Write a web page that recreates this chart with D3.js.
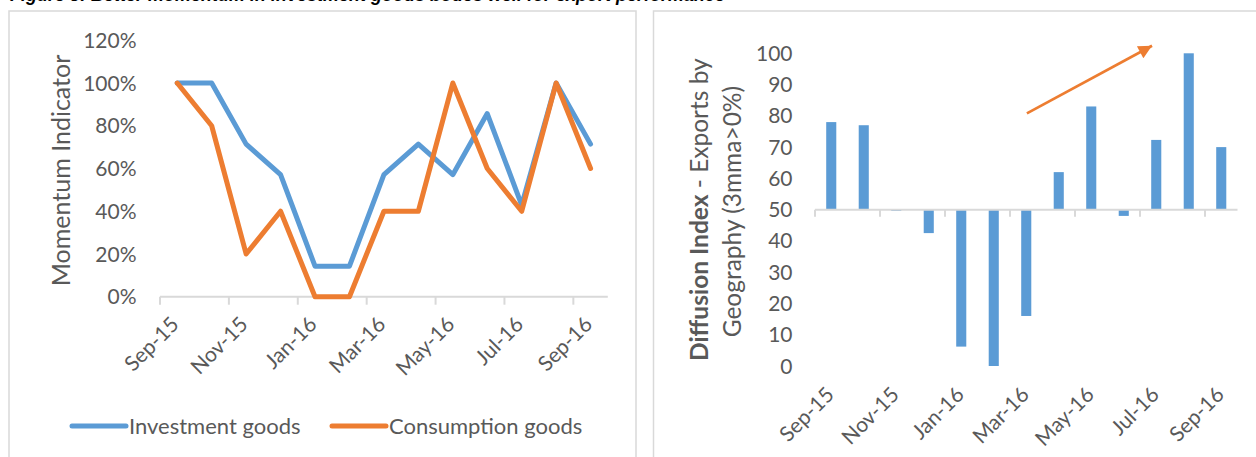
<!DOCTYPE html>
<html>
<head>
<meta charset="utf-8">
<script src="https://cdn.jsdelivr.net/npm/d3@7"></script>
<style>
  html, body { margin: 0; padding: 0; background: #fff; }
  svg { display: block; }
  text { font-family: Lato, "Open Sans", sans-serif; fill: #595959; }
</style>
</head>
<body>
<svg id="chart" width="1256" height="457"></svg>
<script>
// Months shared by both panels
const months = ["Sep-15","Oct-15","Nov-15","Dec-15","Jan-16","Feb-16","Mar-16",
                "Apr-16","May-16","Jun-16","Jul-16","Aug-16","Sep-16"];

// Left panel: momentum indicators (share)
const investmentGoods  = [1.00, 1.00, 0.714, 0.571, 0.143, 0.143, 0.571, 0.714, 0.571, 0.857, 0.429, 1.00, 0.714];
const consumptionGoods = [1.00, 0.80, 0.20, 0.40, 0.00, 0.00, 0.40, 0.40, 1.00, 0.60, 0.40, 1.00, 0.60];
const momentumTicks = [0, 0.2, 0.4, 0.6, 0.8, 1.0, 1.2];

// Right panel: diffusion index of exports by geography
const diffusionIndex = [78, 77, 49.6, 42.5, 6.2, 0, 16, 62, 83, 48, 72.3, 100, 70];
const diffusionTicks = [0, 10, 20, 30, 40, 50, 60, 70, 80, 90, 100];
const diffusionBase = 50;

// Trend arrow, in (month index, index value) units
const trendFrom = [6.52, 80.8];
const trendTo   = [10.37, 102.4];

// Labels shown on the category axes
const tickMonths = ["Sep-15","Nov-15","Jan-16","Mar-16","May-16","Jul-16","Sep-16"];

const BLUE = "#5B9BD5", ORANGE = "#ED7D31", AXIS = "#d9d9d9";
const svg = d3.select("#chart");

// Figure title (runs off the top edge)
svg.append("text")
  .attr("x", 10).attr("y", 1)
  .style("font-family", "'Liberation Sans', Arial, sans-serif")
  .style("font-weight", "bold").style("font-style", "italic")
  .style("font-size", "18px").style("fill", "#000")
  .text("Figure 3: Better momentum in investment goods bodes well for export performance");

// Panel frames
svg.append("rect").attr("x", 9).attr("y", 11).attr("width", 627).attr("height", 470)
  .attr("fill", "none").attr("stroke", AXIS).attr("stroke-width", 1.5);
svg.append("rect").attr("x", 653.5).attr("y", 11).attr("width", 620).attr("height", 470)
  .attr("fill", "none").attr("stroke", AXIS).attr("stroke-width", 1.5);

// ---------- Left panel: momentum lines ----------
const xL = d3.scaleBand().domain(months).range([160, 607.8]).padding(0);
const yL = d3.scaleLinear().domain([0, 1.2]).range([296.7, 40.3]);
const gL = svg.append("g");

gL.selectAll(".ytick").data(momentumTicks).join("text")
  .attr("x", 136.5).attr("y", d => yL(d)).attr("dy", "0.36em")
  .attr("text-anchor", "end").style("font-size", "21px")
  .text(d => d3.format(".0%")(d));

gL.append("text")
  .attr("transform", `translate(70,${(yL(0) + yL(1.2)) / 2 + 2}) rotate(-90)`)
  .attr("text-anchor", "middle").style("font-size", "25px")
  .text("Momentum Indicator");

// category axis
gL.append("line").attr("x1", xL.range()[0]).attr("x2", xL.range()[1])
  .attr("y1", yL(0)).attr("y2", yL(0)).attr("stroke", AXIS).attr("stroke-width", 2);
gL.selectAll(".xtick").data(months.filter((m, i) => i % 2 === 0)).join("line")
  .attr("x1", d => xL(d)).attr("x2", d => xL(d))
  .attr("y1", yL(0)).attr("y2", yL(0) + 8).attr("stroke", AXIS).attr("stroke-width", 2);
gL.selectAll(".xlab").data(tickMonths).join("text")
  .attr("text-anchor", "end").style("font-size", "21px")
  .attr("transform", d => `translate(${xL(d) + xL.bandwidth() / 2 + 3},${yL(0) + 29}) rotate(-45)`)
  .text(d => d);

const lineL = d3.line().x((d, i) => xL(months[i]) + xL.bandwidth() / 2).y(d => yL(d));
gL.append("path").datum(investmentGoods).attr("d", lineL)
  .attr("fill", "none").attr("stroke", BLUE).attr("stroke-width", 5)
  .attr("stroke-linejoin", "round").attr("stroke-linecap", "round");
gL.append("path").datum(consumptionGoods).attr("d", lineL)
  .attr("fill", "none").attr("stroke", ORANGE).attr("stroke-width", 5)
  .attr("stroke-linejoin", "round").attr("stroke-linecap", "round");

// legend
const legend = [
  { name: "Investment goods", color: BLUE, x: 72 },
  { name: "Consumption goods", color: ORANGE, x: 332 }
];
const lg = gL.selectAll(".legend").data(legend).join("g")
  .attr("transform", d => `translate(${d.x},426)`);
lg.append("line").attr("x1", 0).attr("x2", 54).attr("y1", 0).attr("y2", 0)
  .attr("stroke", d => d.color).attr("stroke-width", 5).attr("stroke-linecap", "round");
lg.append("text").attr("x", 57).attr("y", 0).attr("dy", "0.36em")
  .style("font-size", "22px").text(d => d.name);

// ---------- Right panel: diffusion index bars ----------
const xR = d3.scaleBand().domain(months).range([815, 1237.5]).padding(0);
const yR = d3.scaleLinear().domain([0, 100]).range([366, 53.3]);
const barW = xR.bandwidth() * 0.31;
const gR = svg.append("g");

gR.selectAll(".ytick").data(diffusionTicks).join("text")
  .attr("x", 792.5).attr("y", d => yR(d)).attr("dy", "0.36em")
  .attr("text-anchor", "end").style("font-size", "21px")
  .text(d => d);

const titleR = gR.append("text")
  .attr("transform", `translate(708,${(yR(0) + yR(100)) / 2}) rotate(-90)`)
  .attr("text-anchor", "middle").style("font-size", "24.5px");
titleR.append("tspan").style("font-weight", "bold").text("Diffusion Index");
titleR.append("tspan").text(" - Exports by");
gR.append("text")
  .attr("transform", `translate(741,${(yR(0) + yR(100)) / 2 + 2}) rotate(-90)`)
  .attr("text-anchor", "middle").style("font-size", "24.5px")
  .text("Geography (3mma>0%)");

gR.selectAll(".bar").data(diffusionIndex).join("rect")
  .attr("x", (d, i) => xR(months[i]) + (xR.bandwidth() - barW) / 2)
  .attr("width", barW)
  .attr("y", d => yR(Math.max(d, diffusionBase)))
  .attr("height", d => Math.max(Math.abs(yR(d) - yR(diffusionBase)), 0.8))
  .attr("fill", BLUE);

gR.append("line").attr("x1", xR.range()[0]).attr("x2", xR.range()[1])
  .attr("y1", yR(diffusionBase)).attr("y2", yR(diffusionBase))
  .attr("stroke", AXIS).attr("stroke-width", 2);
gR.selectAll(".xtick").data(months.filter((m, i) => i % 2 === 0)).join("line")
  .attr("x1", d => xR(d)).attr("x2", d => xR(d))
  .attr("y1", yR(diffusionBase)).attr("y2", yR(diffusionBase) + 7)
  .attr("stroke", AXIS).attr("stroke-width", 2);
gR.selectAll(".xlab").data(tickMonths).join("text")
  .attr("text-anchor", "end").style("font-size", "21px")
  .attr("transform", d => `translate(${xR(d) + xR.bandwidth() / 2 + 4},${yR(0) + 30}) rotate(-45)`)
  .text(d => d);

// trend arrow
const xIdx = d3.scaleLinear().domain([0, months.length]).range(xR.range());
svg.append("defs").append("marker")
  .attr("id", "arrowHead").attr("viewBox", "0 0 10 10")
  .attr("refX", 10).attr("refY", 5)
  .attr("markerWidth", 6).attr("markerHeight", 5).attr("orient", "auto")
  .attr("markerUnits", "strokeWidth")
  .append("path").attr("d", "M0,0 L10,5 L0,10 Z").attr("fill", ORANGE);
gR.append("line")
  .attr("x1", xIdx(trendFrom[0])).attr("y1", yR(trendFrom[1]))
  .attr("x2", xIdx(trendTo[0])).attr("y2", yR(trendTo[1]))
  .attr("stroke", ORANGE).attr("stroke-width", 2.7)
  .attr("marker-end", "url(#arrowHead)");
</script>
</body>
</html>
